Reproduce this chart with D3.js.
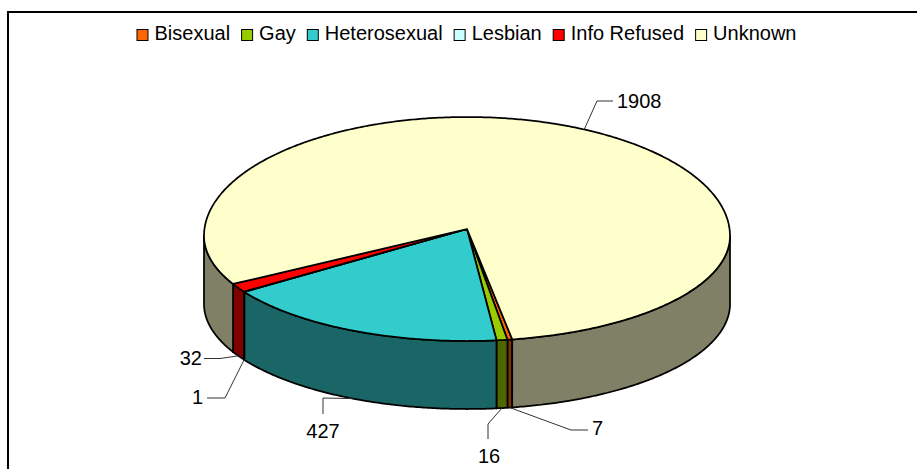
<!DOCTYPE html>
<html>
<head>
<meta charset="utf-8">
<script src="https://cdn.jsdelivr.net/npm/d3@7"></script>
<style>
  body { margin: 0; background: #fff; }
  svg { display: block; }
  text { font-family: "Liberation Sans", Arial, sans-serif; font-size: 20px; fill: #000; }
</style>
</head>
<body>
<svg id="chart" width="917" height="469"></svg>
<script>
const categories = ['Bisexual', 'Gay', 'Heterosexual', 'Lesbian', 'Info Refused', 'Unknown'];
const counts = [7, 16, 427, 1, 32, 1908];
const topColors = ['#FF6600', '#99CC00', '#33CCCC', '#CCFFFF', '#FF0000', '#FFFFCC'];
const sideColors = ['#803300', '#4D6600', '#1A6666', '#668080', '#800000', '#808066'];

const width = 917;
const height = 469;
const depth = 68;
const rad = Math.PI / 180;
const apex = [467, 229];
const firstAngle = 170.1;
const legendGap = 11;

// leader elbows and label spots, in the order of categories
const leaders = [
  { elbow: [[571, 430], [588, 430]], label: [592, 428], anchor: 'start' },
  { elbow: [[488, 424], [488, 439]], label: [489, 456], anchor: 'middle' },
  { elbow: [[323, 398], [323, 414]], label: [323, 431], anchor: 'middle' },
  { elbow: [[225, 398], [207, 398]], label: [203, 397], anchor: 'end' },
  { elbow: [[220, 358.5], [204, 358.5]], label: [202, 358], anchor: 'end' },
  { elbow: [[597, 101], [613, 101]], label: [617, 101], anchor: 'start' },
];

const svg = d3.select('#chart');

// chart frame, only top and left show in the picture
svg.append('path')
  .attr('d', `M8,${height}V12H${width}`)
  .attr('fill', 'none')
  .attr('stroke', '#000')
  .attr('stroke-width', 2);

const x = d3.scaleLinear().domain([-1, 1]).range([204, 730]);
// front half of the rim is flatter than the back, the pie has some perspective
const y = d3.scaleLinear().domain([-1, 0, 1]).range([117, 236, 341]);

const rim = (deg, drop = 0) => [
  x(Math.sin(deg * rad)),
  y(-Math.cos(deg * rad)) + drop,
];

const sweep = (from, to, drop = 0) => {
  const steps = Math.max(2, Math.ceil(Math.abs(to - from) * 2));
  return d3.range(steps + 1).map((i) => rim(from + (to - from) * (i / steps), drop));
};

const line = d3.line();

const slices = d3.pie()
  .sort(null)
  .value((d) => d)
  .startAngle(firstAngle * rad)
  .endAngle((firstAngle + 360) * rad)(counts)
  .map((d, i) => ({
    i,
    from: d.startAngle / rad,
    to: d.endAngle / rad,
  }));

// side walls, only where the rim faces the viewer
const frontRanges = [[90, 270], [450, 630]];
slices.forEach((s) => {
  frontRanges.forEach(([lo, hi]) => {
    const from = Math.max(s.from, lo);
    const to = Math.min(s.to, hi);
    if (from >= to) return;
    svg.append('path')
      .attr('d', `${line([...sweep(from, to), ...sweep(to, from, depth)])}Z`)
      .attr('fill', sideColors[s.i])
      .attr('stroke', '#000')
      .attr('stroke-width', 1.75)
      .attr('stroke-linejoin', 'round');
  });
});

// top face
slices.forEach((s) => {
  svg.append('path')
    .attr('d', `${line([apex, ...sweep(s.from, s.to)])}Z`)
    .attr('fill', topColors[s.i])
    .attr('stroke', '#000')
    .attr('stroke-width', 1.75)
    .attr('stroke-linejoin', 'round');
});

// leaders and value labels
slices.forEach((s) => {
  const mid = (s.from + s.to) / 2;
  const faceUp = Math.cos(mid * rad) > 0;
  const start = rim(mid, faceUp ? 0 : depth);
  const leader = leaders[s.i];
  svg.append('path')
    .attr('d', line([start, ...leader.elbow]))
    .attr('fill', 'none')
    .attr('stroke', '#333')
    .attr('stroke-width', 1);
  svg.append('text')
    .attr('x', leader.label[0])
    .attr('y', leader.label[1])
    .attr('dy', '0.35em')
    .attr('text-anchor', leader.anchor)
    .text(counts[s.i]);
});

// legend, laid out from the measured text and centred over the pie
const legend = svg.append('g');
let cursor = 0;
categories.forEach((name, i) => {
  const g = legend.append('g').attr('transform', `translate(${cursor},0)`);
  g.append('rect')
    .attr('x', 0.5)
    .attr('y', 29.5)
    .attr('width', 11)
    .attr('height', 11)
    .attr('fill', topColors[i])
    .attr('stroke', '#000')
    .attr('stroke-width', 1);
  const label = g.append('text')
    .attr('x', 18)
    .attr('y', 40)
    .text(name);
  cursor += 18 + label.node().getComputedTextLength() + legendGap;
});
legend.attr('transform', `translate(${466.5 - (cursor - legendGap) / 2},0)`);
</script>
</body>
</html>
